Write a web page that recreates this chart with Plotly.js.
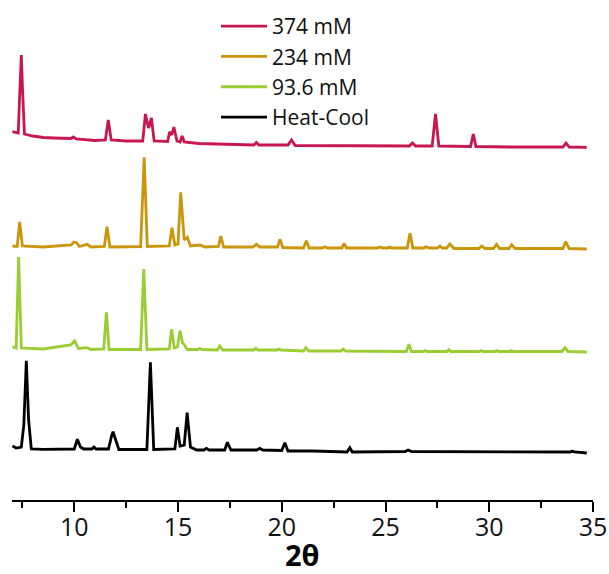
<!DOCTYPE html>
<html>
<head>
<meta charset="utf-8">
<script src="https://cdn.plot.ly/plotly-3.0.1.min.js"></script>
<style>html,body{margin:0;padding:0;background:#fff;}#chart{width:609px;height:574px;}</style>
</head>
<body>
<div id="chart"></div>
<script>
// Series names
const seriesNames = ["374 mM", "234 mM", "93.6 mM", "Heat-Cool"];
// Vertical stacking offsets (arbitrary units)
const offsets = [355, 253, 150, 50];

// 374 mM
const tt374 = [7.02,7.30,7.40,7.45,7.50,7.60,8.0,8.5,9.0,9.5,9.85,9.95,10.1,11.0,11.5,11.64,11.78,12.5,13.3,13.43,13.58,13.72,13.85,14.5,14.6,14.7,14.8,14.95,15.1,15.2,15.3,16.0,17.0,18.0,18.65,18.78,18.9,20.3,20.47,20.65,22.0,23.0,24.5,26.15,26.3,26.45,27.25,27.41,27.57,29.1,29.23,29.36,31.0,33.55,33.7,33.85,34.7];
const int374 = [13.3,12,65,90,60,11,9,7.5,7,6.5,6.5,8,6,4.5,5,25,5,4,4,31,17,27,4,3.5,13.3,10,18,4,3,9,3,1.5,1,0.5,0,2.5,0,0,5,-0.5,-0.5,-1,-1,-1,2,-1,-1,31,-1,-1.5,11,-1.5,-2,-2,2,-2,-2.3];

// 234 mM
const tt234 = [7.02,7.25,7.37,7.5,8.5,9.85,9.98,10.1,10.25,10.62,10.8,11.45,11.58,11.72,13.2,13.37,13.52,14.58,14.71,14.85,15.0,15.13,15.3,15.45,15.6,16.05,16.3,16.95,17.06,17.2,18.6,18.78,18.95,19.8,19.91,20.05,21.05,21.19,21.32,21.95,22.08,22.2,22.9,23.0,23.12,24.6,24.73,24.85,25.1,25.2,25.3,26.05,26.18,26.32,26.85,26.95,27.1,27.5,27.62,27.75,27.95,28.1,28.3,29.5,29.63,29.8,30.2,30.35,30.5,30.95,31.08,31.25,33.55,33.68,33.85,34.7];
const int234 = [1,0.5,25,1,0,2,5,4.5,0.5,2.7,0,0.5,20.3,0,0.5,89.7,0.5,1,19.3,2,3,54.7,7,9.7,1,2,0,0.5,11,0,0,2.7,0,0,7.7,-0.5,-1,6.3,-1,-1,0.3,-1,-1,3.7,-1,-1,0,-1,-1,0,-1,-1,13.7,-1,-1,0.3,-1,-1,1,-1,-1,3,-1.5,-1.5,1,-1.5,-1.5,2.7,-1.5,-1.5,2.3,-1.5,-1.5,5.3,-1.5,-2];

// 93.6 mM
const tt936 = [7.02,7.2,7.32,7.45,8.5,9.83,10.02,10.2,10.62,10.8,11.42,11.55,11.68,13.2,13.35,13.5,14.58,14.69,14.82,14.97,15.1,15.22,15.29,15.45,15.95,16.05,16.15,16.9,17.01,17.15,18.65,18.75,18.85,19.77,19.87,19.97,21.05,21.16,21.3,21.95,22.06,22.15,22.85,22.96,23.08,26.0,26.13,26.25,26.8,26.9,27.0,27.95,28.05,28.15,29.5,29.6,29.7,30.25,30.35,30.45,30.97,31.07,31.17,33.5,33.65,33.8,34.7];
const int936 = [3.3,2,93,2,1,5,9,1.5,2.3,0.5,1,37.7,0.5,0.5,81,0.5,1,20.7,2,3,19.3,7,5.7,0.5,0.5,1.5,0.5,0,4,0,0,1.7,0,0,1,0,-1,2.3,-1,-1,-0.5,-1,-1,1,-1,-1.5,5.7,-1.5,-1.5,-0.5,-1.5,-1.5,0.3,-1.5,-1.5,-0.5,-1.5,-1.5,-0.5,-1.5,-1.5,-0.5,-1.5,-1.5,2.3,-1.5,-2];

// Heat-Cool
const ttHC = [7.02,7.2,7.45,7.57,7.69,7.8,7.93,8.5,10.0,10.15,10.3,10.45,10.85,10.95,11.05,11.65,11.8,11.87,12.0,12.15,13.5,13.67,13.83,14.85,14.97,15.1,15.3,15.44,15.6,15.9,16.25,16.37,16.5,17.25,17.38,17.55,18.8,18.94,19.08,20.0,20.15,20.3,21.5,23.15,23.28,23.4,25.95,26.09,26.25,30.4,30.5,30.6,33.9,34.0,34.1,34.7];
const intHC = [4,2,3,25,89.3,30,1,0.7,1,10.7,3,1,1,3,1,1,14,18.3,10,0.5,0.5,87.7,0.5,1,22.7,4,5,37.3,3,0,0,1.7,0,0,7.7,0,0,1.7,0,-0.5,7.3,-1,-1,-2,2.3,-2,-1.5,0,-1.5,-2,-1.5,-2,-2,-1,-2,-3];

// Axis ticks
const majorTicks = [10, 15, 20, 25, 30, 35];
const majorLabels = ["10", "15", "20", "25", "30", "35"];
const xTitle = "2θ";

const colors = ["#C8174F", "#C9960C", "#9ACD32", "#000000"];
const xs = [tt374, tt234, tt936, ttHC];
const ys = [int374, int234, int936, intHC];

const traces = seriesNames.map((name, i) => ({
  type: "scatter",
  mode: "lines",
  name: name,
  x: xs[i],
  y: ys[i].map(v => v + offsets[i]),
  line: {color: colors[i], width: 2.8}
}));

const layout = {
  width: 609, height: 574,
  margin: {l: 12, r: 16, t: 0, b: 74},
  paper_bgcolor: "#fff", plot_bgcolor: "#fff",
  font: {family: "Open Sans, sans-serif", color: "#000"},
  showlegend: true,
  legend: {
    x: (216 - 12) / 581, xanchor: "left",
    y: 1 - 6 / 500, yanchor: "top",
    bgcolor: "rgba(0,0,0,0)", borderwidth: 0,
    font: {size: 21, color: "#111"},
    itemwidth: 46,
    tracegroupgap: 0
  },
  xaxis: {
    range: [7, 35],
    showgrid: false, zeroline: false,
    showline: true, linecolor: "#000", linewidth: 2,
    ticks: "outside", ticklen: 10, tickwidth: 2, tickcolor: "#000",
    tickmode: "array", tickvals: majorTicks, ticktext: majorLabels,
    tickfont: {size: 25, color: "#111"},
    ticklabelstandoff: -6,
    minor: {ticks: "outside", tick0: 7.5, dtick: 5, ticklen: 6, tickwidth: 2, tickcolor: "#000", showgrid: false},
    fixedrange: true
  },
  yaxis: {
    range: [0, 500], visible: false, fixedrange: true
  },
  annotations: [{
    text: xTitle, xref: "paper", yref: "paper",
    x: 0.5, y: -(554 - 500) / 500, xanchor: "center", yanchor: "middle",
    showarrow: false, borderpad: 0,
    font: {size: 29, color: "#000", weight: "bold"}
  }]
};

Plotly.newPlot("chart", traces, layout, {staticPlot: true, displayModeBar: false});
</script>
</body>
</html>
